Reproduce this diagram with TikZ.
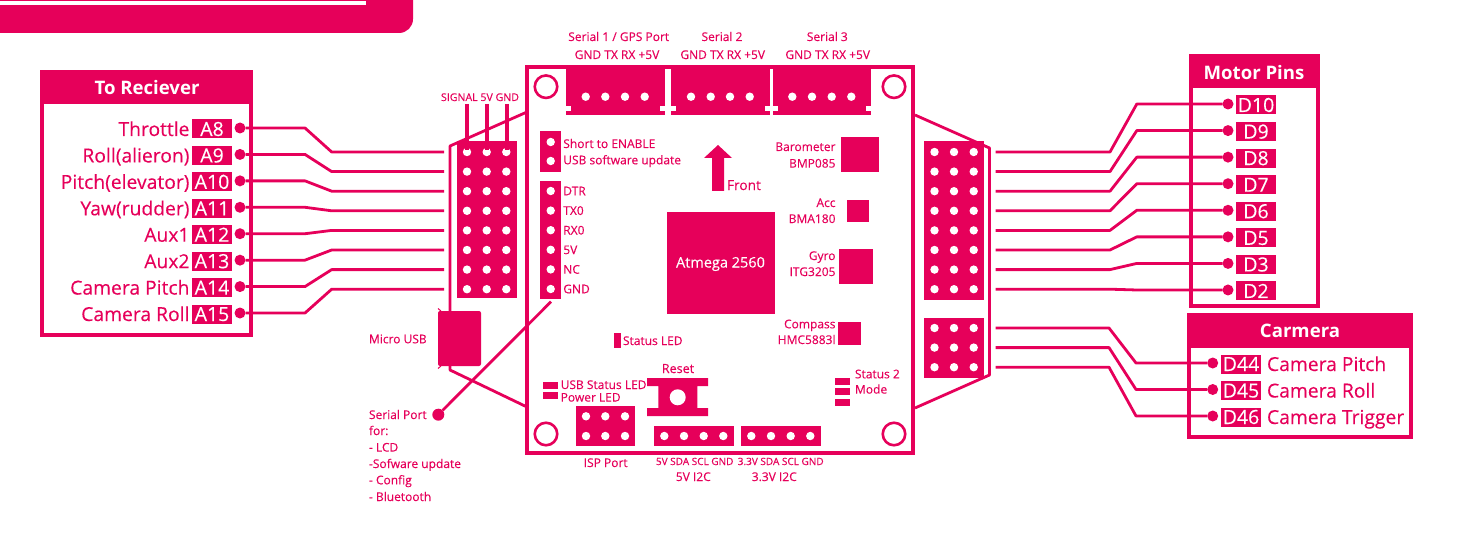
\documentclass[tikz,border=0pt]{standalone}
\usepackage{fontspec}
\setmainfont[FakeBold=0.25]{Open Sans}
\newfontfamily\titlefont[Scale=1]{Open Sans Bold}
\definecolor{mg}{HTML}{E6005A}
\tikzset{
  x=1pt,y=-1pt,
  every node/.style={outer sep=0pt},
  wire/.style={draw=mg,line width=2.8pt,line join=round},
  frame/.style={draw=mg,line width=4pt},
  solid block/.style={fill=mg,draw=none},
  hole/.style={circle,fill=white,draw=none,inner sep=0pt,minimum size=8.4pt},
  bigdot/.style={circle,fill=mg,draw=none,inner sep=0pt,minimum size=11pt},
  tag/.style={fill=mg,text=white,inner sep=0pt,minimum width=40pt,minimum height=19pt,text height=14pt,text depth=0pt,font=\fontsize{19.5}{20}\selectfont},
  biglabel/.style={text=mg,inner sep=0pt,text height=14pt,text depth=0pt,font=\fontsize{19.3}{20}\selectfont},
  title/.style={text=white,inner sep=0pt,text height=13.5pt,text depth=0pt,font=\titlefont\fontsize{18.6}{20}\selectfont},
  small/.style={text=mg,inner sep=0pt,text height=8.6pt,text depth=0pt,font=\fontsize{12}{13}\selectfont},
  tiny/.style={text=mg,inner sep=0pt,text height=7.4pt,text depth=0pt,font=\fontsize{10}{12}\selectfont},
  ring/.style={circle,draw=mg,line width=2.6pt,fill=none,inner sep=0pt,minimum size=22.5pt},
  whitetext/.style={text=white,inner sep=0pt,font=\fontsize{14.5}{16}\selectfont},
}
\begin{document}
\begin{tikzpicture}
\useasboundingbox (0,0) rectangle (1458,540);
% banner
\fill[mg,rounded corners=14pt] (-20,-20) rectangle (413,33);
\fill[white] (0,1.3) rectangle (366,5);

% board wings
\coordinate (wl1) at (527,112); \coordinate (wl2) at (450,146); \coordinate (wl3) at (450,370); \coordinate (wl4) at (527,407);
\coordinate (wr1) at (915,115); \coordinate (wr2) at (989.5,148); \coordinate (wr3) at (989.5,375); \coordinate (wr4) at (915,408);
\draw[wire] (wl1) -- (wl2) -- (wl3) -- (wl4);
\draw[wire] (wr1) -- (wr2) -- (wr3) -- (wr4);

% board
\node[frame,minimum width=386pt,minimum height=386pt,inner sep=0pt,anchor=north west] (board) at (527,67) {};
\foreach \n/\cx/\cy in {tl/546/86.7,tr/894/86.7,bl/546/434,br/894/434}
  \node[ring] (ring\n) at (\cx,\cy) {};

% left header
\fill[solid block] (456.5,141) rectangle (517,298);
\foreach \c in {467,486.7,506.3}
  \foreach \k in {0,...,7}
    \node[hole] (hl-\c-\k) at (\c,{152+19.6*\k}) {};
\node[tiny,font=\fontsize{10.6}{12}\selectfont,anchor=center] (sigtxt) at (480,97.3) {SIGNAL 5V GND};
\foreach \c/\m in {467/a,487/b,506.7/c} {
  \coordinate (st\m) at (\c,104);
  \coordinate (se\m) at (\c,150);
  \draw[mg,line width=4pt] (st\m) -- (se\m);
}

% right headers
\fill[solid block] (924,141) rectangle (984,300);
\foreach \c in {934.5,954,973.7}
  \foreach \k in {0,...,7}
    \node[hole] (hr-\c-\k) at (\c,{152+19.6*\k}) {};
\fill[solid block] (924,318) rectangle (984,378);
\foreach \c in {934.5,954,973.7}
  \foreach \k in {0,1,2}
    \node[hole] (hc-\c-\k) at (\c,{328+19.6*\k}) {};

% To Reciever
\node[frame,minimum width=209pt,minimum height=263pt,inner sep=0pt,anchor=north west] (rxbox) at (42,72) {};
\fill[solid block] (42,72) rectangle (251,104);
\node[title] (rxtitle) at (147,88) {To Reciever};
\foreach \lab/\tg [count=\i from 0] in {Throttle/A8,Roll(alieron)/A9,Pitch(elevator)/A10,Yaw(rudder)/A11,Aux1/A12,Aux2/A13,Camera Pitch/A14,Camera Roll/A15} {
  \pgfmathsetmacro{\ya}{128+26.43*\i}
  \pgfmathsetmacro{\yb}{152+19.6*\i}
  \node[tag] (tag\tg) at (212,\ya+1) {\tg};
  \node[biglabel,anchor=east] (lab\tg) at (189.5,\ya+1) {\lab};
  \node[bigdot] (dot\tg) at (240,\ya) {};
  \coordinate (end\tg) at (444,\yb);
  \draw[wire] (dot\tg) -- (305,\ya) -- (331.7,\yb) -- (end\tg);
}

% Motor pins
\node[frame,minimum width=127pt,minimum height=250pt,inner sep=0pt,anchor=north west] (motorbox) at (1190.5,56) {};
\fill[solid block] (1190.5,56) rectangle (1317.5,88.5);
\node[title] (motortitle) at (1254,73) {Motor Pins};
\foreach \tg [count=\i from 0] in {D10,D9,D8,D7,D6,D5,D3,D2} {
  \pgfmathsetmacro{\ya}{152+19.6*\i}
  \pgfmathsetmacro{\yb}{104+26.57*\i}
  \coordinate (end\tg) at (995.5,\ya);
  \node[tag] (tag\tg) at (1256,\yb+1) {\tg};
  \node[bigdot] (dot\tg) at (1228,\yb) {};
  \draw[wire] (end\tg) -- (1110,\ya) -- (1136.8,\yb) -- (dot\tg);
}

% Camera
\node[frame,minimum width=222pt,minimum height=122pt,inner sep=0pt,anchor=north west] (cambox) at (1189,315) {};
\fill[solid block] (1189,315) rectangle (1411,348);
\node[title] (camtitle) at (1300,331) {Carmera};
\foreach \tg/\lab/\ya/\yb in {D44/Camera Pitch/328/363,D45/Camera Roll/347.6/389.5,D46/Camera Trigger/367.2/416} {
  \coordinate (end\tg) at (995.5,\ya);
  \node[tag] (tag\tg) at (1241,\yb+1) {\tg};
  \node[biglabel,anchor=west] (lab\tg) at (1267,\yb+1) {\lab};
  \node[bigdot] (dot\tg) at (1212.7,\yb) {};
  \draw[wire] (end\tg) -- (1109,\ya) -- (1136,\yb) -- (dot\tg);
}

% serial connectors
\foreach \n/\xa/\xb/\ha/\hb/\hc/\hd/\lab/\tx/\gx in {
  s1/566/665/585.7/605.3/625/644.7/{Serial 1 / GPS Port}/618.7/617,
  s2/671/770/691/710.7/730/749.7/{Serial 2}/722/722.7,
  s3/773/871/792.3/812/831.7/851.3/{Serial 3}/827.3/827.7} {
  \fill[solid block] (\xa,69) rectangle (\xb,115);
  \fill[white] (\xa,106) rectangle (\xa+5,110.7);
  \fill[white] (\xb-5,106) rectangle (\xb,110.7);
  \foreach \h in {\ha,\hb,\hc,\hd}
    \node[hole] (hs\n-\h) at (\h,96.7) {};
  \node[small] (name\n) at (\tx,36.7) {\lab};
  \node[small] (pins\n) at (\gx,54.7) {GND TX RX +5V};
}

% jumper and pin block
\fill[solid block] (540,131) rectangle (561,172);
\node[hole] (j1) at (550.7,142) {};
\node[hole] (j2) at (550.7,161) {};
\node[small,anchor=west] (jt1) at (563.3,143.7) {Short to ENABLE};
\node[small,anchor=west] (jt2) at (563.3,160) {USB software update};
\fill[solid block] (540,181) rectangle (561,299);
\foreach \lab [count=\i from 0] in {DTR,TX0,RX0,5V,NC,GND} {
  \node[hole] (p\i) at (550.7,{191+19.6*\i}) {};
  \node[small,anchor=west] (pt\i) at (563.3,{191+19.6*\i}) {\lab};
}

% front arrow
\fill[mg] (712,191) -- (712,158) -- (704,158) -- (718,145) -- (732,158) -- (724,158) -- (724,191) -- cycle;
\node[small,font=\fontsize{13.7}{15}\selectfont,text height=10pt,anchor=west] (front) at (727,185) {Front};

% chips
\node[solid block,minimum width=108pt,minimum height=102pt,inner sep=0pt,anchor=north west] (mcu) at (666.5,212) {};
\node[whitetext] (mcut) at (720.5,264) {Atmega 2560};
\fill[solid block] (841,137) rectangle (879,172);
\fill[solid block] (847,200) rectangle (869,222);
\fill[solid block] (839,249) rectangle (873,284);
\fill[solid block] (838,322) rectangle (861,345);
\foreach \lab/\y in {Barometer/146.7,BMP085/163.3,Acc/202.7,BMA180/218.7,Gyro/255.7,ITG3205/271.7,Compass/324,HMC5883l/339.7}
  \node[small,anchor=east] (t\lab) at (835.5,\y) {\lab};

% LEDs
\fill[solid block] (614,333) rectangle (621,348);
\node[small,anchor=west] (statusled) at (623,340.7) {Status LED};
\fill[solid block] (543,382) rectangle (558,389);
\fill[solid block] (543,392) rectangle (558,399);
\node[small,anchor=west] (usbled) at (560.7,384.7) {USB Status LED};
\node[small,anchor=west] (pwrled) at (560.7,397.3) {Power LED};
\fill[solid block] (835,378) rectangle (850,384.7);
\fill[solid block] (835,388.3) rectangle (850,395);
\fill[solid block] (835,399) rectangle (850,405.7);
\node[small,anchor=west] (st2a) at (855,374) {Status 2};
\node[small,anchor=west] (st2b) at (855,389.3) {Mode};

% reset
\node[small,font=\fontsize{12.6}{14}\selectfont] (resett) at (678,368.7) {Reset};
\fill[mg] (647,378) -- (708,378) -- (708,386) -- (697.3,386) -- (697.3,408) -- (708,408) -- (708,416) -- (647,416) -- (647,408) -- (658.3,408) -- (658.3,386) -- (647,386) -- cycle;
\node[hole,minimum size=16pt] (resetb) at (677.7,397.3) {};

% ISP
\fill[solid block] (576,406) rectangle (635,446);
\foreach \c in {586,605.3,625}
  \foreach \r in {416.3,436}
    \node[hole] (isp-\c-\r) at (\c,\r) {};
\node[small] (ispt) at (605.7,462.7) {ISP Port};

% I2C
\fill[solid block] (654,426) rectangle (734,446);
\foreach \c in {664.3,684,703.7,723.3}
  \node[hole] (ia-\c) at (\c,436) {};
\fill[solid block] (741,426) rectangle (821,446);
\foreach \c in {751.3,771,790.7,810.3}
  \node[hole] (ib-\c) at (\c,436) {};
\node[tiny] (iat) at (694.7,461.3) {5V SDA SCL GND};
\node[tiny] (ibt) at (780.7,461.3) {3.3V SDA SCL GND};
\node[small] (ian) at (693.3,476.7) {5V I2C};
\node[small] (ibn) at (774.3,476.7) {3.3V I2C};

% micro USB
\node[solid block,rounded corners=2pt,minimum width=43pt,minimum height=55pt,inner sep=0pt,anchor=north west] (usb) at (438,311) {};
\coordinate (tk1a) at (441,311); \coordinate (tk1b) at (438,308.5);
\coordinate (tk2a) at (441,366); \coordinate (tk2b) at (438,368.5);
\draw[mg,line width=1pt] (tk1a) -- (tk1b);
\draw[mg,line width=1pt] (tk2a) -- (tk2b);
\node[small,anchor=west] (usbt) at (369,339) {Micro USB};

% serial port note
\node[bigdot,minimum size=12pt] (spdot) at (438.3,414.7) {};
\coordinate (spend) at (551,301.7);
\draw[wire] (spend) -- (spdot);
\foreach \lab/\y in {Serial Port/414.7,for:/430.7,- LCD/447.3,-Sofware update/463.7,- Config/480,- Bluetooth/496.7}
  \node[small,anchor=west] (sp\y) at (369,\y) {\lab};
\end{tikzpicture}
\end{document}
